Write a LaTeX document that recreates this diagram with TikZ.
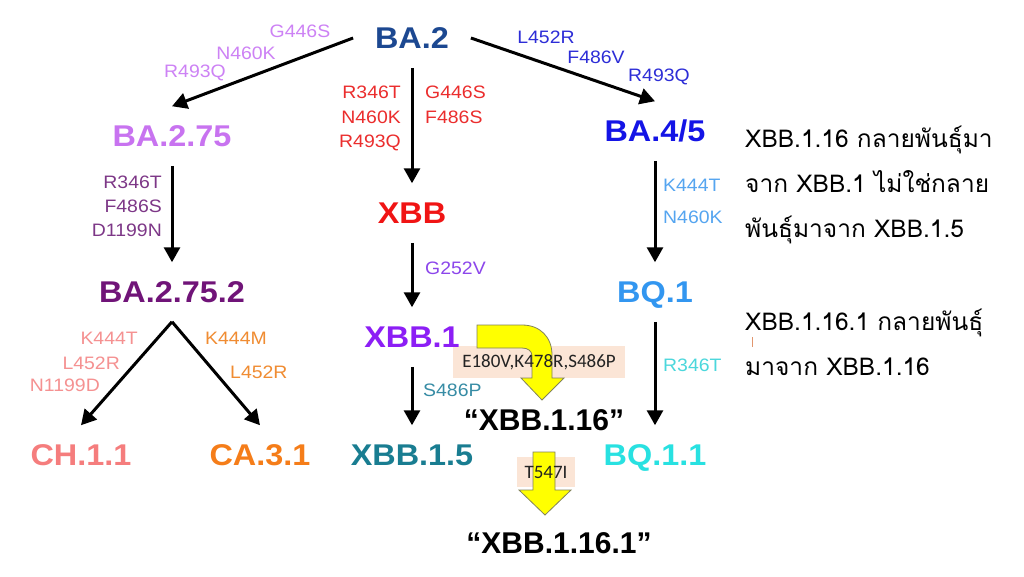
\documentclass[tikz,border=0pt]{standalone}
\usepackage{fontspec}
\setmainfont{Liberation Sans}
\newfontfamily\strainfont[FakeStretch=1.08]{Liberation Sans}
\newfontfamily\boxfont{Carlito}
\newfontfamily\thaifont[Script=Thai]{Loma}
\usetikzlibrary{arrows.meta,backgrounds}

\definecolor{cBA2}{RGB}{28,72,145}
\definecolor{cBA275}{RGB}{200,115,240}
\definecolor{cXBB}{RGB}{240,20,20}
\definecolor{cBA45}{RGB}{20,20,230}
\definecolor{cBA2752}{RGB}{112,20,120}
\definecolor{cXBB1}{RGB}{140,30,245}
\definecolor{cBQ1}{RGB}{50,150,240}
\definecolor{cCH}{RGB}{245,125,125}
\definecolor{cCA}{RGB}{245,125,25}
\definecolor{cXBB15}{RGB}{25,125,145}
\definecolor{cBQ11}{RGB}{40,225,225}
\definecolor{mLav}{RGB}{205,130,245}
\definecolor{mBlue}{RGB}{45,45,215}
\definecolor{mRed}{RGB}{235,45,45}
\definecolor{mPurple}{RGB}{125,55,135}
\definecolor{mViolet}{RGB}{140,70,235}
\definecolor{mSky}{RGB}{85,165,240}
\definecolor{mCyan}{RGB}{75,215,220}
\definecolor{mTeal}{RGB}{55,140,165}
\definecolor{mSalmon}{RGB}{245,145,145}
\definecolor{mOrange}{RGB}{240,140,50}
\definecolor{arrowyellow}{RGB}{255,255,0}
\definecolor{arrowedge}{RGB}{130,130,90}
\definecolor{tagfill}{RGB}{251,229,214}
\definecolor{tagtext}{RGB}{35,35,35}
\definecolor{tickc}{RGB}{225,150,110}

\begin{document}
\begin{tikzpicture}[x=1pt, y=-1pt]
    \tikzset{strain/.style={font=\strainfont\bfseries\fontsize{30}{30}\selectfont, inner sep=0pt, text height=21.5pt, text depth=0pt, outer xsep=22pt, outer ysep=19pt}};
    \tikzset{mut/.style={font=\strainfont\fontsize{18}{18}\selectfont, inner sep=0pt, text height=13pt, text depth=0pt}};
    \tikzset{arr/.style={line width=3pt, -{Triangle[length=15pt, width=16pt]}}};
    \tikzset{quoted/.style={font=\bfseries\fontsize{30}{30}\selectfont, inner sep=0pt, text height=22pt, text depth=0pt}};
    \tikzset{tag/.style={font=\boxfont\fontsize{19}{19}\selectfont, text=tagtext, inner sep=0pt}};
    \tikzset{note/.style={font=\thaifont\fontsize{24.5}{24.5}\selectfont, anchor=base west, inner sep=0pt}};
    \tikzset{bigarrow/.style={fill=arrowyellow, draw=arrowedge, line width=0.8pt}};

    \useasboundingbox (0, 0) rectangle (1024, 576);

    % Lineages

    % Root
    \node[strain, text=cBA2] (ba2) at (412, 38) {BA.2};

    % Level 1
    \node[strain, text=cBA275] (ba275) at (172, 136) {BA.2.75};
    \node[strain, text=cXBB] (xbb) at (412, 213) {XBB};
    \node[strain, text=cBA45] (ba45) at (655, 131) {BA.4/5};

    % Level 2
    \node[strain, text=cBA2752] (ba2752) at (172, 292) {BA.2.75.2};
    \node[strain, text=cXBB1] (xbb1) at (412, 337) {XBB.1};
    \node[strain, text=cBQ1] (bq1) at (655, 292) {BQ.1};

    % Level 3
    \node[strain, text=cCH] (ch11) at (81, 455) {CH.1.1};
    \node[strain, text=cCA] (ca31) at (260, 455) {CA.3.1};
    \node[strain, text=cXBB15] (xbb15) at (412, 455) {XBB.1.5};
    \node[strain, text=cBQ11] (bq11) at (655, 455) {BQ.1.1};

    % Edges
    \foreach \i/\j in {ba2.west/ba275.north, ba2.east/ba45.north, ba2.south/xbb.north} { \draw[arr] (\i) -- (\j); }
    \foreach \i/\j in {ba275/ba2752, xbb/xbb1, ba45/bq1, ba2752/ch11, ba2752/ca31, xbb1/xbb15, bq1/bq11} { \draw[arr] (\i.south) -- (\j.north); };

    % Mutations
    \foreach \t/\x/\y [count=\k] in {G446S/300/31, N460K/246/53, R493Q/195/71}
        \node[mut, text=mLav] (mlav\k) at (\x, \y) {\t};
    \foreach \t/\x/\y [count=\k] in {L452R/546/37, F486V/596/57, R493Q/659/75}
        \node[mut, text=mBlue] (mblue\k) at (\x, \y) {\t};
    \foreach \t/\y [count=\k] in {R346T/92, N460K/117, R493Q/141}
        \node[mut, text=mRed, anchor=east] (mredl\k) at (401, \y) {\t};
    \foreach \t/\y [count=\k] in {G446S/92, F486S/117}
        \node[mut, text=mRed, anchor=west] (mredr\k) at (425, \y) {\t};
    \foreach \t/\y [count=\k] in {R346T/182, F486S/206, D1199N/230}
        \node[mut, text=mPurple, anchor=east] (mpur\k) at (162, \y) {\t};
    \node[mut, text=mViolet, anchor=west] (mvio) at (425, 268) {G252V};
    \foreach \t/\y [count=\k] in {K444T/185, N460K/217}
        \node[mut, text=mSky, anchor=west] (msky\k) at (663, \y) {\t};
    \node[mut, text=mCyan, anchor=west] (mcyan) at (663, 365) {R346T};
    \node[mut, text=mTeal, anchor=west] (mteal) at (423, 390) {S486P};
    \foreach \t/\x/\y [count=\k] in {K444T/138/338, L452R/120/363, N1199D/100/385}
        \node[mut, text=mSalmon, anchor=east] (msal\k) at (\x, \y) {\t};
    \foreach \t/\x/\y [count=\k] in {K444M/205/338, L452R/230/372}
        \node[mut, text=mOrange, anchor=west] (morg\k) at (\x, \y) {\t};

    % New ones
    \node[quoted] (xbb116) at (544, 419) {“XBB.1.16”};
    \node[quoted] (xbb1161) at (559, 542) {“XBB.1.16.1”};
    \node[tag, minimum width=172pt, minimum height=31pt] (tag116) at (539, 362) {E180V,K478R,S486P};
    \node[tag, minimum width=58pt, minimum height=30pt] (tag1161) at (546, 472) {T547I};

    % Notes
    \foreach \t/\y [count=\k] in {XBB.1.16 กลายพันธุ์มา/147, จาก XBB.1 ไม่ใช่กลาย/192, พันธุ์มาจาก XBB.1.5/237, XBB.1.16.1 กลายพันธุ์/330, มาจาก XBB.1.16/375}
        \node[note] (note\k) at (745, \y) {\t};
    \draw[tickc, line width=1pt] (752, 337) -- (752, 347);

    % Yellow arrows
    \begin{scope}[on background layer]
        \fill[white] (0, 0) rectangle (1024, 576);
        \fill[tagfill] (tag116.south west) rectangle (tag116.north east);
        \fill[tagfill] (tag1161.south west) rectangle (tag1161.north east);
        \filldraw[bigarrow] (477, 325) -- (522, 325) .. controls (540, 325) and (552, 337) .. (552, 355) -- (552, 378) -- (564, 378) -- (542, 400) -- (521, 378) -- (532, 378) -- (532, 356) .. controls (532, 351) and (528, 348) .. (522, 348) -- (477, 348) -- cycle;
        \filldraw[bigarrow] (533, 452) -- (555, 452) -- (555, 490) -- (571, 490) -- (545, 515) -- (519, 490) -- (533, 490) -- cycle;
    \end{scope}
  \end{tikzpicture}
\end{document}
